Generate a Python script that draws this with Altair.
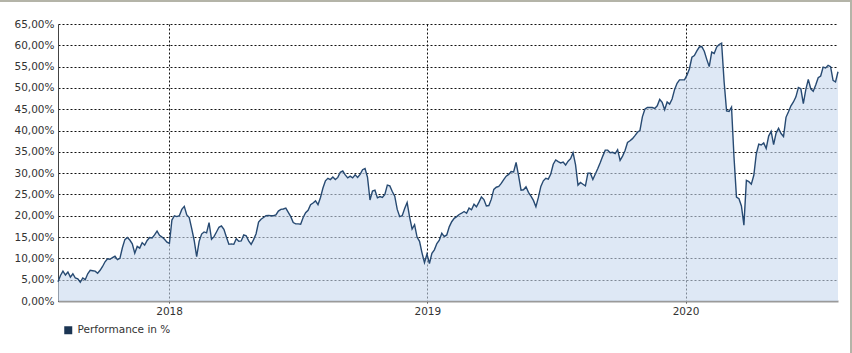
import altair as alt
import pandas as pd

# ---- data (values in %, one point every 3.5 days) ----
start_date = "2017-07-28"
step = "84h"
series_name = "Performance in %"
performance = [
    4.5, 6.0, 7.0, 6.1, 6.8, 5.6, 6.4, 5.4, 5.2, 4.4,
    5.4, 5.0, 6.4, 7.2, 7.1, 7.0, 6.5, 7.2, 8.1, 9.2,
    9.9, 9.8, 10.2, 10.5, 9.7, 10.0, 12.5, 14.4, 14.9, 14.3,
    13.4, 11.2, 12.8, 12.4, 13.7, 13.1, 14.2, 14.9, 14.8, 15.5,
    16.4, 15.4, 15.0, 14.5, 13.8, 13.5, 19.0, 20.0, 19.8, 20.0,
    21.5, 22.2, 20.2,
    19.6, 17.0, 14.2, 10.4, 14.0, 15.7, 16.2, 16.0, 18.4, 14.5,
    15.1, 16.2, 17.3, 17.6, 16.8, 15.0, 13.3, 13.4, 13.3, 14.6,
    14.0, 14.1, 15.5, 15.3, 14.1, 13.3, 14.4, 15.8, 18.5, 19.2,
    19.6, 20.0, 20.1, 20.0, 20.0, 20.2, 21.1, 21.5, 21.6, 21.8,
    20.8, 19.8, 18.4, 18.1, 18.1, 18.0, 19.6, 20.7, 21.3, 22.6,
    23.0, 23.5,
    22.6, 24.3, 26.5, 28.2, 28.8, 28.5, 29.1, 28.5, 29.0, 30.2,
    30.5, 29.6, 28.9, 29.3, 28.9, 29.6, 29.0, 29.7, 30.8, 31.1,
    29.0, 23.7, 25.8, 26.0, 24.2, 24.5, 24.3, 25.0, 27.2, 27.0,
    25.7, 24.6, 21.5, 19.8, 20.0, 21.7, 23.1, 19.7, 16.9, 17.9,
    15.0, 14.0, 11.3, 9.0, 11.0, 8.8, 11.2, 12.0, 13.5, 14.3,
    15.9, 15.1, 15.5, 17.4,
    18.6, 19.4, 19.8, 20.3, 20.6, 21.0, 20.6, 21.8, 21.4, 22.7,
    22.1, 23.2, 24.4, 23.8, 22.3, 22.4, 23.9, 26.2, 26.7, 26.9,
    27.6, 28.5, 29.3, 29.7, 30.4, 30.3, 32.5, 29.4, 26.0, 26.1,
    26.8, 25.5, 24.6, 23.6, 22.1, 24.3, 26.9, 28.2, 28.8, 28.6,
    29.8, 32.1, 33.1, 32.7, 32.4, 32.6, 31.9, 32.8, 33.4, 34.8,
    32.0, 27.2,
    27.8, 27.4, 27.0, 30.0, 30.0, 28.5, 29.8, 31.1, 32.5, 34.0,
    35.4, 35.4, 34.8, 34.9, 34.6, 35.5, 33.0, 34.0, 35.3, 37.2,
    37.6, 38.1, 38.8, 39.6, 40.0, 43.2, 45.0, 45.4, 45.4, 45.4,
    45.2, 45.8, 47.3, 46.6, 44.9, 46.7, 46.2, 47.4, 49.6, 51.1,
    51.9, 51.9, 51.9, 53.0, 54.5, 57.2, 57.6, 58.7, 59.6, 59.7,
    58.6, 56.7,
    55.0, 58.4, 58.1, 59.6, 60.2, 60.5, 51.5, 44.6, 44.5, 45.5,
    33.8, 24.4, 24.0, 22.3, 17.8, 28.3, 28.0, 27.4, 29.5, 34.5,
    36.8, 36.6, 37.1, 35.8, 38.7, 39.8, 36.7, 39.4, 40.5, 39.3,
    38.6, 43.1, 44.4, 45.8, 46.7, 47.9, 50.1, 49.8, 46.3, 49.6,
    52.0, 49.8, 49.2, 50.7, 52.4, 52.8, 54.9, 54.7, 55.3, 55.0,
    51.8, 51.4, 53.8,
]
y_ticks = list(range(0, 70, 5))
year_ticks = [2018, 2019, 2020]

dates = pd.date_range(start_date, periods=len(performance), freq=step)
df = pd.DataFrame({"date": dates, "value": performance, "series": series_name})

FONT = "DejaVu Sans"
LINE_COLOR = "#274a72"
LEGEND_COLOR = "#1b3553"
FILL_COLOR = "#c8d9ee"
LABEL_COLOR = "#333333"

x_enc = alt.X(
    "date:T",
    scale=alt.Scale(nice=False),
    axis=alt.Axis(
        title=None,
        values=[alt.DateTime(year=y, month=1, date=1) for y in year_ticks],
        format="%Y",
        grid=True,
        gridDash=[2, 2],
        gridColor="#111111",
        gridOpacity=1,
        tickSize=4,
        tickColor="#333333",
        tickDash=[2, 2],
        domainColor="#9a9a9a",
        domainWidth=2,
        labelFont=FONT,
        labelFontSize=10.5,
        labelColor=LABEL_COLOR,
        labelPadding=1,
        zindex=0,
    ),
)
y_enc = alt.Y(
    "value:Q",
    scale=alt.Scale(domain=[0, 65], nice=False),
    axis=alt.Axis(
        title=None,
        values=y_ticks,
        labelExpr="replace(format(datum.value, '.2f'), '.', ',') + '%'",
        grid=True,
        gridDash=[2, 2],
        gridColor="#111111",
        gridOpacity=1,
        ticks=False,
        domainColor="#444444",
        domainWidth=1,
        labelFont=FONT,
        labelFontSize=10.5,
        labelColor=LABEL_COLOR,
        labelPadding=4,
        zindex=0,
    ),
)

base = alt.Chart(df)
area = base.mark_area(color=FILL_COLOR, opacity=0.6).encode(x=x_enc, y=y_enc)
line = base.mark_line(strokeWidth=1.4).encode(
    x=x_enc,
    y=y_enc,
    color=alt.Color(
        "series:N",
        scale=alt.Scale(range=[LINE_COLOR]),
        legend=alt.Legend(
            title=None,
            orient="none",
            legendX=5,
            legendY=301,
            symbolType="square",
            symbolSize=64,
            symbolFillColor=LEGEND_COLOR,
            symbolStrokeColor=LEGEND_COLOR,
            symbolStrokeWidth=0,
            labelFont=FONT,
            labelFontSize=10.5,
            labelColor=LABEL_COLOR,
            labelOffset=4,
            padding=0,
        ),
    ),
)

frame = pd.DataFrame({"k": [0]})
top_border = alt.Chart(frame).mark_rule(color="#b4b4a8", strokeWidth=2).encode(
    x=alt.value(-58), x2=alt.value(794), y=alt.value(-23)
)
right_border = alt.Chart(frame).mark_rule(color="#b4b4a8", strokeWidth=2).encode(
    x=alt.value(793), y=alt.value(-24), y2=alt.value(329)
)

chart = (
    alt.layer(area, line, top_border, right_border)
    .properties(
        width=780,
        height=277,
        autosize=alt.AutoSizeParams(type="none"),
        padding={"left": 58, "top": 24, "right": 14, "bottom": 52},
        background="white",
    )
    .configure_view(strokeWidth=0)
)

chart.save("out.html", embed_options={"renderer": "svg", "actions": False})
